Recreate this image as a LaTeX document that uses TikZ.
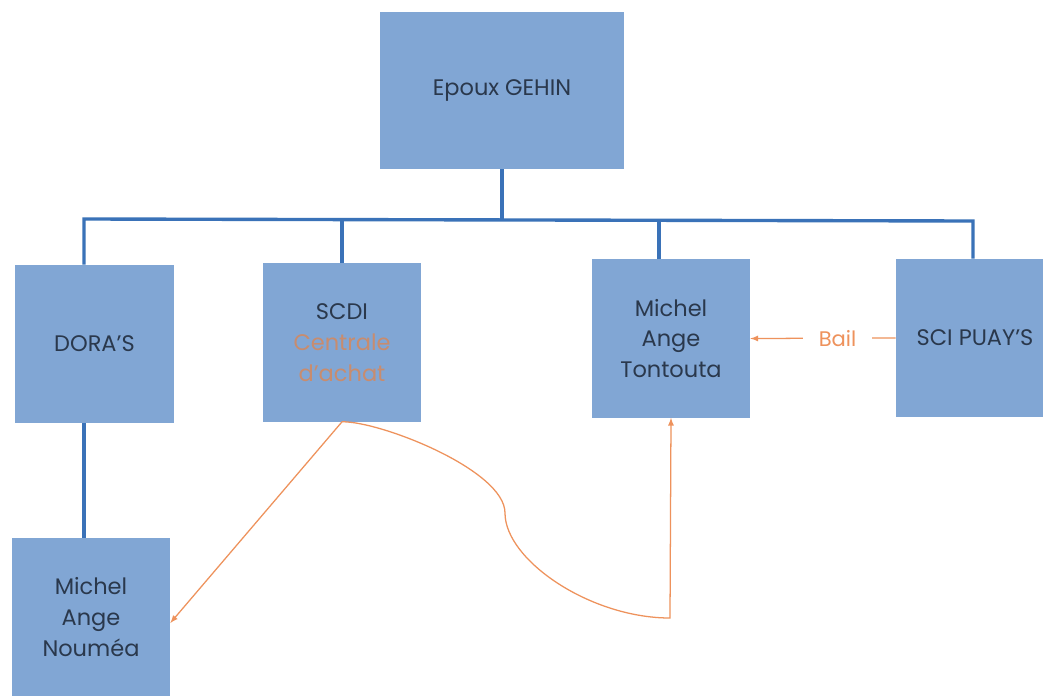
\documentclass[tikz,border=0pt]{standalone}
\usepackage{fontspec}
\setmainfont{Poppins}
\usepackage{tikz}
\tikzset{>=latex}
\definecolor{boxblue}{RGB}{129,166,212}
\definecolor{treeblue}{RGB}{58,114,184}
\definecolor{linkorange}{RGB}{238,146,92}
\definecolor{achat}{RGB}{200,140,110}
\definecolor{inktext}{RGB}{42,56,76}
\tikzset{
  entity/.style={fill=boxblue,text=inktext,align=center,inner sep=2pt,
    minimum width=3.95cm,minimum height=3.95cm,
    font=\fontsize{16}{22}\selectfont},
  tree/.style={draw=treeblue,line width=2.4pt},
  link/.style={draw=linkorange,line width=0.9pt}
}

\begin{document}
\begin{tikzpicture}[x=0.025cm,y=-0.025cm]
            \clip (0,0) rectangle (1043,696);
            \fill[white] (0,0) rectangle (1043,696);
            \node[entity,minimum width=6.1cm,minimum height=3.92cm] (epoux) at (502,90.5) {Epoux GEHIN};
            \node[entity] (doras) at (94.5,344) {DORA'S};
            \node[entity] (scdi) at (342,342.5) {SCDI\\\textcolor{achat}{Centrale}\\\textcolor{achat}{d'achat}};
            \node[entity] (tontouta) at (671,338.5) {Michel\\Ange\\Tontouta};
            \node[entity] (puays) at (975,338) {SCI PUAY'S};
            \node[entity] (noumea) at (91,617) {Michel\\Ange\\Nouméa};
            \coordinate (busL) at (84,219);
            \coordinate (busR) at (973,221);
            \coordinate (corner) at (670,618);
            \draw[tree] (epoux.south) -- (epoux.south |- busL);
            \draw[tree] (doras.north -| busL) -- (busL) -- (busR) -- (puays.north -| busR);
            \draw[tree] (scdi.north) -- (scdi.north |- busL);
            \draw[tree] ([shift={(-12,0)}]tontouta.north) -- ([shift={(-12,0)}]tontouta.north |- busL);
            \draw[tree] (doras.south -| busL) -- (noumea.north -| busL);
            \draw[link,->] (puays.west) -- node[pos=0.4,fill=white,text=linkorange,inner xsep=11pt,
              font=\fontsize{15}{18}\selectfont] {Bail} (tontouta.east);
            \draw[link,->] (scdi.south) -- ([shift={(0,6)}]noumea.east);
            \draw[link,->] (scdi.south) .. controls (380,421) and (505,470) .. (505,513)
              .. controls (505,560) and (590,618) .. (corner) -- (tontouta.south);
        \end{tikzpicture}
\end{document}
